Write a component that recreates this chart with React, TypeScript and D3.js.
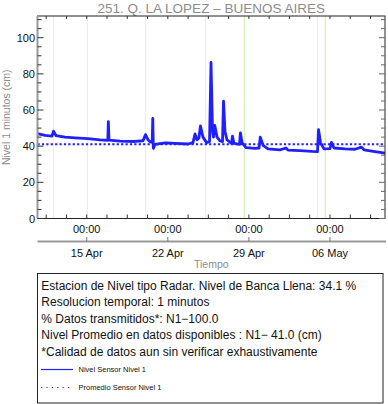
import React from "react";
import * as d3 from "d3";

const seriesTimes = [
  "2024-04-10T18:00","2024-04-11T09:40","2024-04-12T00:00","2024-04-12T03:10","2024-04-12T08:30",
  "2024-04-13T03:00","2024-04-13T23:45","2024-04-15T02:40","2024-04-16T03:30","2024-04-16T19:40",
  "2024-04-16T20:45","2024-04-16T22:12","2024-04-17T21:00","2024-04-19T04:00","2024-04-19T20:40",
  "2024-04-20T01:50","2024-04-20T07:00","2024-04-20T11:00","2024-04-20T15:40","2024-04-20T16:50",
  "2024-04-20T18:00","2024-04-20T21:30","2024-04-21T18:15","2024-04-22T15:00","2024-04-23T17:50",
  "2024-04-24T04:10","2024-04-24T08:25","2024-04-24T12:30","2024-04-24T16:30","2024-04-24T19:40",
  "2024-04-25T00:50","2024-04-25T08:10","2024-04-25T14:25","2024-04-25T17:30","2024-04-25T20:40",
  "2024-04-25T22:35","2024-04-26T01:10","2024-04-26T06:00","2024-04-26T12:00","2024-04-26T17:20",
  "2024-04-26T19:25","2024-04-26T22:30","2024-04-27T02:40","2024-04-27T12:00","2024-04-27T14:00",
  "2024-04-27T17:10","2024-04-28T04:30","2024-04-28T06:30","2024-04-28T09:40","2024-04-28T18:00",
  "2024-04-29T12:40","2024-04-29T21:00","2024-04-29T23:35","2024-04-30T05:15","2024-04-30T15:40",
  "2024-05-01T16:30","2024-05-02T04:50","2024-05-02T09:00","2024-05-03T09:50","2024-05-04T10:50",
  "2024-05-04T22:10","2024-05-05T00:15","2024-05-05T04:20","2024-05-05T11:30","2024-05-06T00:00",
  "2024-05-06T03:10","2024-05-06T08:20","2024-05-07T07:00","2024-05-08T03:50","2024-05-08T17:15",
  "2024-05-08T22:20","2024-05-09T21:00","2024-05-10T18:00"
];
const seriesValues = [
  47.0, 46.0, 45.6, 48.3, 45.8,
  45.0, 44.6, 44.2, 43.5, 43.2,
  53.6, 43.3, 42.8, 42.6, 43.0,
  46.4, 43.5, 42.5, 42.0, 55.4,
  38.8, 41.0, 41.8, 41.5, 41.2,
  42.0, 46.8, 43.5, 44.5, 51.2,
  45.0, 42.0, 42.5, 86.3, 48.0,
  45.0, 51.5, 45.0, 43.0, 42.5,
  64.9, 48.0, 43.5, 41.5, 45.5,
  41.5, 41.0, 47.4, 42.0, 39.2,
  38.8, 39.0, 45.0, 40.5, 38.5,
  38.0, 39.0, 37.8, 37.5, 37.1,
  37.0, 49.2, 42.0, 38.5, 38.6,
  42.1, 39.0, 38.5, 38.3, 39.5,
  38.0, 37.0, 36.2
];
const meanValue = 41.0;
const grayGrid = ["2024-04-12T02:50","2024-04-15T01:15","2024-04-20T02:10","2024-04-25T06:30","2024-05-04T21:40"];
const greenGrid = ["2024-04-28T14:25","2024-05-05T14:10"];
const majorTicks = ["2024-04-15T00:00","2024-04-22T00:00","2024-04-29T00:00","2024-05-06T00:00"];
const dateLabels = ["15 Apr","22 Apr","29 Apr","06 May"];
const yMajor = [0, 20, 40, 60, 80, 100];
const infoLines = [
  "Estacion de Nivel tipo Radar. Nivel de Banca Llena: 34.1 %",
  "Resolucion temporal: 1 minutos",
  "% Datos transmitidos*: N1\u2212100.0",
  "Nivel Promedio en datos disponibles : N1\u2212 41.0 (cm)",
  "*Calidad de datos aun sin verificar exhaustivamente"
];
const legendLabels = ["Nivel Sensor Nivel 1", "Promedio Sensor Nivel 1"];

const parse = d3.utcParse("%Y-%m-%dT%H:%M");
const FONT = "'Liberation Sans', Arial, Helvetica, sans-serif";

export default function App() {
  const W = 388, H = 404;
  const L = 37.5, R = 385, T = 16, B = 218.5;
  const x = d3.scaleUtc().domain([parse("2024-04-10T18:00")!, parse("2024-05-10T18:00")!]).range([L, R]);
  const y = d3.scaleLinear().domain([0, 112]).range([B, T]);
  const data = seriesTimes.map((t, i) => ({ t: parse(t)!, v: seriesValues[i] }));
  const line = d3.line<{ t: Date; v: number }>().x(d => x(d.t)).y(d => y(d.v));

  const base = parse("2024-04-15T00:00")!.getTime();
  const step = 42 * 3600 * 1000;
  const minorX: Date[] = [];
  for (let k = -3; k <= 15; k++) {
    const dt = new Date(base + k * step);
    if (x(dt) >= L && x(dt) <= R) minorX.push(dt);
  }
  const yMinor = d3.range(0, 112, 5);

  return (
    <svg width={W} height={H} style={{ position: "absolute", left: 0, top: 0, background: "#fff" }} fontFamily={FONT}>
      <rect x={0} y={0} width={W} height={H} fill="#fff" />
      <text x={(L + R) / 2} y={12.5} textAnchor="middle" fontSize={13.5} fill="#8c8c8c">251. Q. LA LOPEZ – BUENOS AIRES</text>
      {grayGrid.map((g, i) => (
        <line key={"g" + i} x1={x(parse(g)!)} x2={x(parse(g)!)} y1={T} y2={B} stroke="#ebebeb" strokeWidth={1} />
      ))}
      {greenGrid.map((g, i) => (
        <line key={"gg" + i} x1={x(parse(g)!)} x2={x(parse(g)!)} y1={T} y2={B} stroke="#c8f0a0" strokeWidth={1} />
      ))}
      <line x1={L} x2={R} y1={y(meanValue)} y2={y(meanValue)} stroke="#1f1fff" strokeWidth={2} strokeDasharray="2.2,2.2" />
      <path d={line(data) || ""} fill="none" stroke="#1f1fff" strokeWidth={2.8} strokeLinejoin="round" />
      {/* frame */}
      <rect x={L} y={T} width={R - L} height={B - T} fill="none" stroke="#222" strokeWidth={1} />
      <line x1={L} x2={L} y1={T} y2={B} stroke="#999" strokeWidth={2} />
      {/* y ticks */}
      {yMinor.map(v => {
        const maj = v % 20 === 0;
        const len = maj ? 6 : 4;
        return (
          <g key={"yt" + v}>
            <line x1={L} x2={L + len} y1={y(v)} y2={y(v)} stroke="#333" strokeWidth={1} />
            <line x1={R} x2={R - len} y1={y(v)} y2={y(v)} stroke="#666" strokeWidth={1} />
          </g>
        );
      })}
      {yMajor.map(v => (
        <text key={"yl" + v} x={35} y={y(v) + 4} textAnchor="end" fontSize={11} fill="#111">{v}</text>
      ))}
      {/* x ticks */}
      {minorX.map((d, i) => (
        <g key={"xt" + i}>
          <line x1={x(d)} x2={x(d)} y1={B} y2={B - 4} stroke="#333" strokeWidth={1} />
          <line x1={x(d)} x2={x(d)} y1={T} y2={T + 3} stroke="#333" strokeWidth={1} />
        </g>
      ))}
      {majorTicks.map((m, i) => (
        <text key={"xl" + i} x={x(parse(m)!)} y={233} textAnchor="middle" fontSize={11} fill="#111">00:00</text>
      ))}
      {/* second axis */}
      <line x1={L} x2={R + 1} y1={241.5} y2={241.5} stroke="#999" strokeWidth={2} />
      {majorTicks.map((m, i) => (
        <g key={"dl" + i}>
          <line x1={x(parse(m)!)} x2={x(parse(m)!)} y1={241.5} y2={237} stroke="#777" strokeWidth={1} />
          <text x={x(parse(m)!)} y={257} textAnchor="middle" fontSize={11} fill="#111">{dateLabels[i]}</text>
        </g>
      ))}
      <text x={(L + R) / 2} y={268} textAnchor="middle" fontSize={10.5} fill="#8c8c8c">Tiempo</text>
      <text transform={`translate(9.5,${(T + B) / 2}) rotate(-90)`} textAnchor="middle" fontSize={10.5} fill="#8c8c8c">Nivel 1 minutos (cm)</text>
      {/* info box */}
      <rect x={37.5} y={273.5} width={345.5} height={129.5} fill="none" stroke="#222" strokeWidth={1} />
      {infoLines.map((s, i) => (
        <text key={"il" + i} x={41.3} y={289.5 + i * 16.55} fontSize={12} fill="#111">{s}</text>
      ))}
      <line x1={41} x2={73} y1={369.5} y2={369.5} stroke="#1f1fff" strokeWidth={1.2} />
      <text x={78.5} y={372} fontSize={7.5} fill="#111">{legendLabels[0]}</text>
      <line x1={41} x2={73} y1={387.5} y2={387.5} stroke="#1f1fff" strokeWidth={1.2} strokeDasharray="1.2,4.2" />
      <text x={78.5} y={390} fontSize={7.5} fill="#111">{legendLabels[1]}</text>
    </svg>
  );
}
